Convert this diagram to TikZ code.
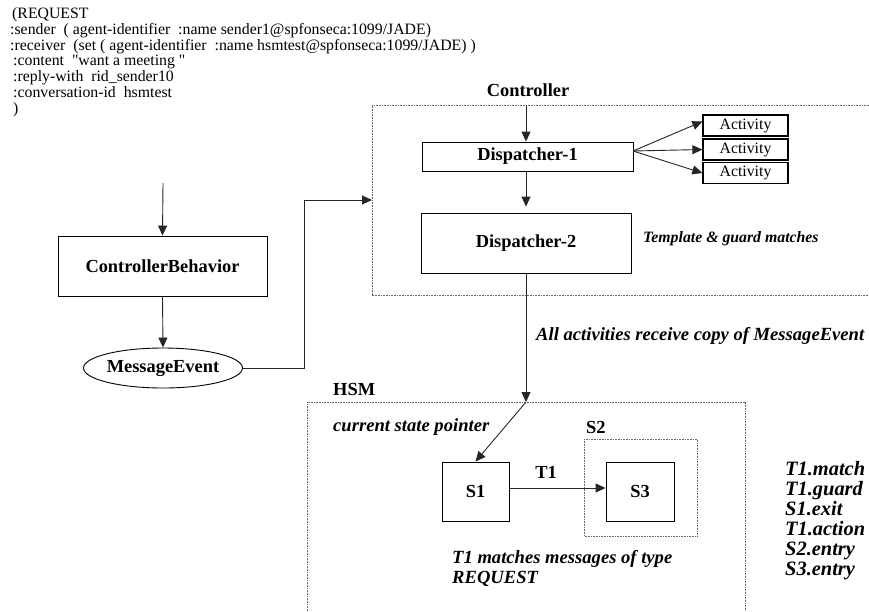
\documentclass[tikz,border=0pt]{standalone}
\usepackage{fontspec}
\setmainfont{Liberation Serif}
\newfontfamily\rawserif{Liberation Serif}[Ligatures=TeXOff]
\usetikzlibrary{arrows.meta,shapes.geometric,calc}

% font shortcuts
\newcommand\msgfont{\rawserif\fontsize{15.8}{15.7}\selectfont}
\newcommand\boldlbl{\fontsize{18.4}{20}\selectfont\bfseries}
\newcommand\notefont{\fontsize{18.6}{20}\selectfont\bfseries\itshape}
\newcommand\listfont{\fontsize{20.4}{20}\selectfont\bfseries\itshape}
\newcommand\smallnote{\fontsize{15.8}{18}\selectfont\bfseries\itshape}
\newcommand\actfont{\fontsize{15.8}{18}\selectfont}

\tikzset{
  x=1pt, y=-1pt,
  conn/.style={draw=black!85, line width=0.9pt},
  arr/.style={conn, -{Triangle[length=10pt,width=9pt]}},
  box/.style={draw=black, line width=0.9pt, inner sep=0pt, font=\boldlbl},
  actbox/.style={draw=black, line width=1.3pt, inner sep=0pt,
    minimum width=85pt, minimum height=21pt, font=\actfont},
  dotbox/.style={draw=black!60, line width=0.7pt, dash pattern=on 0.7pt off 0.9pt},
  txt/.style={inner sep=0pt, anchor=base west},
}

\begin{document}
\begin{tikzpicture}
\useasboundingbox[fill=white] (0,0) rectangle (869,611);

% ACL message printout
\node[txt, font=\msgfont] (m1) at (12,18.5) {(REQUEST};
\node[txt, font=\msgfont] (m2) at (10,34.5) {:sender~ ( agent-identifier~ :name sender1@spfonseca:1099/JADE)};
\node[txt, font=\msgfont] (m3) at (10,50) {:receiver~ (set ( agent-identifier~ :name hsmtest@spfonseca:1099/JADE) )};
\node[txt, font=\msgfont] (m4) at (13,65.8) {:content~ "want a meeting "};
\node[txt, font=\msgfont] (m5) at (13,81.6) {:reply-with~ rid\_sender10};
\node[txt, font=\msgfont] (m6) at (13,97.3) {:conversation-id~ hsmtest};
\node[txt, font=\msgfont] (m7) at (13,113) {)};

% Controller region
\draw[dotbox] (869,105) -- (372,105) -- (372,295) -- (869,295);
\node[txt, anchor=base, font=\boldlbl] (ctl) at (528,96) {Controller};
\node[box, minimum width=211pt, minimum height=29pt] (D1) at (527.5,156.5) {Dispatcher-1};
\node[box, minimum width=210pt, minimum height=60pt] (D2) at (526,243) {Dispatcher-2};
\node[actbox] (A1) at (745.5,125.5) {Activity};
\node[actbox] (A2) at (745.5,149.5) {Activity};
\node[actbox] (A3) at (745.5,173) {Activity};
\node[txt, font=\smallnote] (tg) at (643,242) {Template \& guard matches};

\coordinate (ctop) at (526,105);
\coordinate (fan) at (633,151);
\draw[arr] (ctop) -- (ctop |- D1.north);
\draw[arr] (fan) -- ($(A1.west)+(0,-4)$);
\draw[arr] (fan) -- (A2.west);
\draw[arr] (fan) -- (A3.west);
\draw[arr, shorten >=6pt] (ctop |- D1.south) -- (ctop |- D2.north);

% Controller behaviour
\coordinate (cbin) at (163,183);
\node[box, minimum width=209pt, minimum height=60pt] (CB) at (162.5,266) {ControllerBehavior};
\node[draw=black, line width=0.9pt, ellipse, inner sep=0pt, minimum width=150pt,
  minimum height=40pt, font=\boldlbl] (ME) at (163,368) {MessageEvent};
\draw[arr] (cbin) -- (CB.north);
\draw[arr] (CB.south) -- (ME.north);
\coordinate (bend) at (304,200);
\coordinate (ctlin) at (372,200);
\draw[arr] (ME.east) -| (bend) -- (ctlin);

% HSM region
\draw[dotbox] (307,611) -- (307,402) -- (745,402) -- (745,611);
\node[txt, font=\boldlbl] (hsm) at (333,395) {HSM};
\node[txt, font=\notefont] (all) at (536,340) {All activities receive copy of MessageEvent};
\node[txt, font=\notefont] (csp) at (333,431) {current state pointer};
\node[txt, font=\boldlbl] (s2l) at (586,433) {S2};
\draw[dotbox] (584,439) rectangle (697,536);
\node[box, minimum width=67pt, minimum height=59pt] (S1) at (475.5,491.5) {S1};
\node[box, minimum width=68pt, minimum height=59pt] (S3) at (640,491.5) {S3};
\node[txt, anchor=base, font=\boldlbl] (t1) at (546,478) {T1};
\node[txt, font=\notefont] (tm1) at (452,563) {T1 matches messages of type};
\node[txt, font=\notefont] (tm2) at (452,583) {REQUEST};

\coordinate (hsmin) at (526,402);
\draw[arr] (D2.south) -- (hsmin);
\draw[arr] (hsmin) -- (S1.north);
\draw[arr] ($(S1.east)+(0,-3.5)$) -- ($(S3.west)+(0,-3.5)$);

% transition sequence
\node[txt, font=\listfont] (q1) at (785,475) {T1.match};
\node[txt, font=\listfont] (q2) at (785,495) {T1.guard};
\node[txt, font=\listfont] (q3) at (785,515) {S1.exit};
\node[txt, font=\listfont] (q4) at (785,535) {T1.action};
\node[txt, font=\listfont] (q5) at (785,555) {S2.entry};
\node[txt, font=\listfont] (q6) at (785,575) {S3.entry};
\end{tikzpicture}
\end{document}
